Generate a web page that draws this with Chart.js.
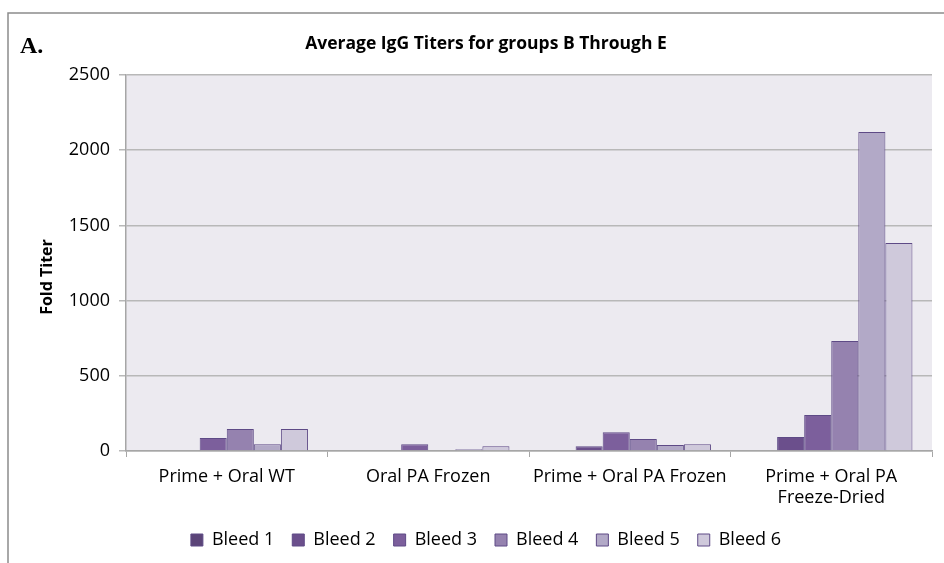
<!DOCTYPE html>
<html>
<head>
<meta charset="utf-8">
<script src="https://cdn.jsdelivr.net/npm/chart.js@4"></script>
<style>
  html, body { margin: 0; padding: 0; background: #fff; }
  #wrap { width: 944px; height: 563px; position: relative; }
</style>
</head>
<body>
<div id="wrap"><canvas id="chart"></canvas></div>
<script>
(function () {
  "use strict";

  /* ---- data -------------------------------------------------------- */
  var groups = ["Prime + Oral WT", "Oral PA Frozen", "Prime + Oral PA Frozen",
                ["Prime + Oral PA", "Freeze-Dried"]];
  var bleedNames = ["Bleed 1", "Bleed 2", "Bleed 3", "Bleed 4", "Bleed 5", "Bleed 6"];
  var bleed1 = [0, 0, 0, 0];
  var bleed2 = [5, 0, 32, 93];
  var bleed3 = [86, 45, 125, 240];
  var bleed4 = [146, 0, 80, 731];
  var bleed5 = [45, 12, 40, 2121];
  var bleed6 = [146, 32, 45, 1383];
  var yTicks = [0, 500, 1000, 1500, 2000, 2500];

  var COLORS = ["#5B4478", "#6B4F8C", "#7C5F9C", "#9582AF", "#B2A9C7", "#CFC9DB"];
  var EDGE = "#5E4A86";
  var FONT = "'Open Sans', sans-serif";

  var series = [bleed1, bleed2, bleed3, bleed4, bleed5, bleed6];
  var datasets = series.map(function (vals, i) {
    return {
      label: bleedNames[i],
      data: vals,
      backgroundColor: COLORS[i],
      borderColor: EDGE,
      borderWidth: 1,
      borderSkipped: "bottom",
      categoryPercentage: 0.806,
      barPercentage: 1.0,
    };
  });

  /* frame, plot background, panel letter, axis title */
  var decor = {
    id: "decor",
    beforeDraw: function (chart) {
      var ctx = chart.ctx, a = chart.chartArea;
      ctx.save();
      ctx.fillStyle = "#ECEAF0";
      ctx.fillRect(a.left, a.top, a.right - a.left, a.bottom - a.top);
      ctx.strokeStyle = "#8C8C8C";
      ctx.lineWidth = 1.5;
      ctx.beginPath();
      ctx.moveTo(8, 563);
      ctx.lineTo(8, 13);
      ctx.lineTo(944, 13);
      ctx.stroke();
      ctx.restore();
    },
    afterDraw: function (chart) {
      var ctx = chart.ctx;
      ctx.save();
      ctx.fillStyle = "#000";
      ctx.font = "bold 24px 'Liberation Serif', serif";
      ctx.textBaseline = "alphabetic";
      ctx.fillText("A.", 20, 53);
      ctx.translate(47, 277);
      ctx.rotate(-Math.PI / 2);
      ctx.font = "bold 16px " + FONT;
      ctx.textAlign = "center";
      ctx.textBaseline = "middle";
      ctx.fillText("Fold Titer", 0, 0);
      ctx.restore();
    },
  };

  new Chart(document.getElementById("chart"), {
    type: "bar",
    data: { labels: groups, datasets: datasets },
    plugins: [decor],
    options: {
      responsive: true,
      maintainAspectRatio: false,
      animation: false,
      layout: { padding: { left: 40, right: 12, top: 0, bottom: 4 } },
      plugins: {
        title: {
          display: true,
          text: "Average IgG Titers for groups B Through E",
          color: "#000",
          font: { family: FONT, size: 17.5, weight: "bold", lineHeight: 1.2 },
          padding: { top: 34, bottom: 20 },
        },
        legend: {
          position: "bottom",
          labels: {
            boxWidth: 12,
            boxHeight: 12,
            padding: 18,
            color: "#000",
            font: { family: FONT, size: 18 },
          },
        },
        tooltip: { enabled: false },
      },
      scales: {
        x: {
          afterFit: function (s) { s.height = 62; },
          grid: {
            offset: true,
            drawOnChartArea: false,
            drawTicks: true,
            tickLength: 6,
            color: "#A6A6A6",
          },
          border: { display: true, color: "#A6A6A6", width: 1.5 },
          ticks: {
            color: "#000",
            padding: 9,
            maxRotation: 0,
            autoSkip: false,
            font: { family: FONT, size: 18, lineHeight: 1.17 },
          },
        },
        y: {
          min: 0,
          max: 2500,
          afterFit: function (s) { s.width = 86; },
          afterBuildTicks: function (s) {
            s.ticks = yTicks.map(function (v) { return { value: v }; });
          },
          grid: {
            color: "#B8B8B8",
            lineWidth: 1.5,
            tickLength: 7,
          },
          border: { display: true, color: "#A6A6A6", width: 1.5 },
          ticks: {
            color: "#000",
            padding: 9,
            font: { family: FONT, size: 18 },
            callback: function (v) { return String(v); },
          },
        },
      },
    },
  });
})();
</script>
</body>
</html>
